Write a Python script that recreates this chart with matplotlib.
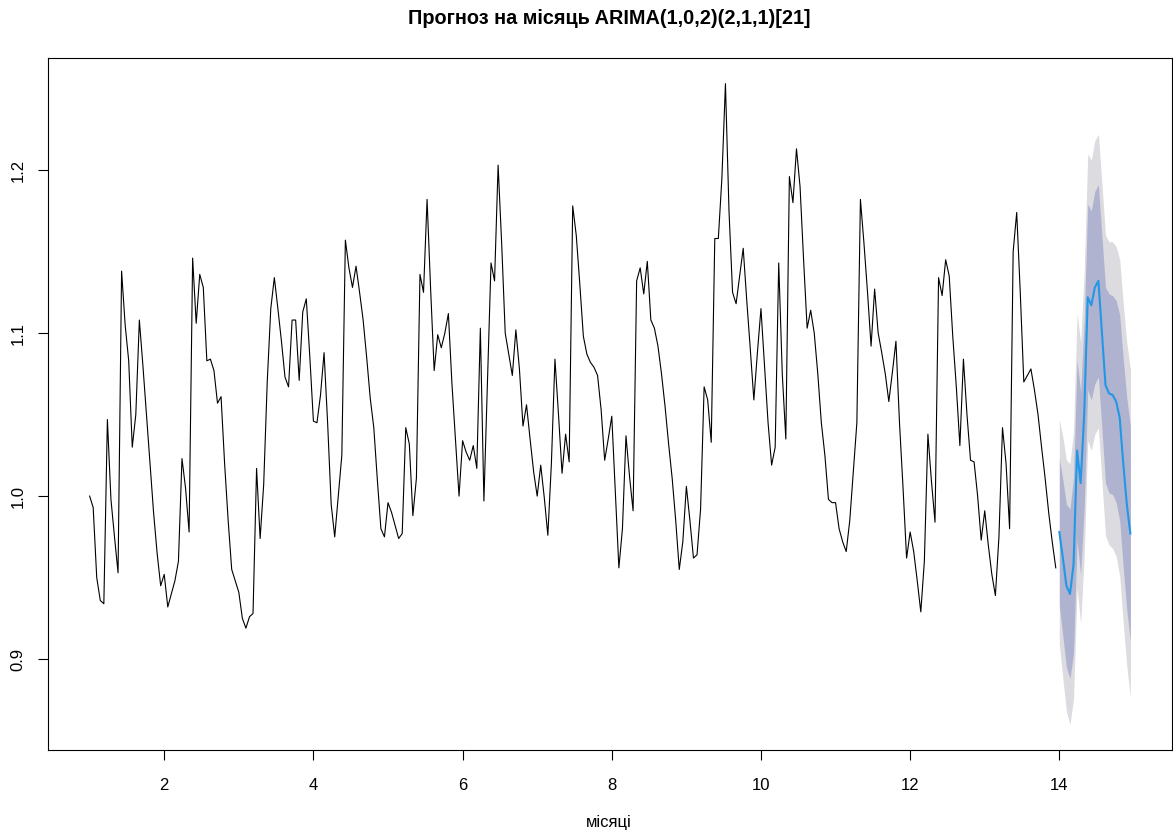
import matplotlib
matplotlib.use("Agg")
import matplotlib.pyplot as plt
import numpy as np

plt.rcParams["font.family"] = ["Liberation Sans", "DejaVu Sans"]

# -----------------------------------------------------------------------------
# Data (frequency 21 per month, starting at month 1)
# -----------------------------------------------------------------------------

FREQ = 21
START = 1

history = [
    1.000, 0.993, 0.950, 0.936, 0.934, 1.047, 0.998, 0.975, 0.953, 1.138, 1.105,
    1.083, 1.030, 1.050, 1.108, 1.080, 1.050, 1.020, 0.990, 0.965, 0.945,
    0.952, 0.932, 0.940, 0.948, 0.960, 1.023, 1.005, 0.978, 1.146, 1.106, 1.136,
    1.128, 1.083, 1.084, 1.077, 1.057, 1.061, 1.020, 0.985, 0.955, 0.948,
    0.941, 0.925, 0.919, 0.926, 0.928, 1.017, 0.974, 1.007, 1.070, 1.115, 1.134,
    1.115, 1.095, 1.073, 1.067, 1.108, 1.108, 1.071, 1.113, 1.121, 1.085,
    1.046, 1.045, 1.062, 1.088, 1.045, 0.995, 0.975, 1.000, 1.025, 1.157, 1.140,
    1.128, 1.141, 1.125, 1.108, 1.085, 1.060, 1.042, 1.010, 0.980, 0.975,
    0.996, 0.990, 0.982, 0.974, 0.977, 1.042, 1.032, 0.988, 1.011, 1.136, 1.125,
    1.182, 1.127, 1.077, 1.099, 1.091, 1.100, 1.112, 1.069, 1.035, 1.000,
    1.034, 1.027, 1.022, 1.031, 1.017, 1.103, 0.997, 1.070, 1.143, 1.132, 1.203,
    1.155, 1.100, 1.087, 1.074, 1.102, 1.078, 1.043, 1.056, 1.035, 1.015,
    1.000, 1.019, 0.999, 0.976, 1.020, 1.084, 1.050, 1.014, 1.038, 1.021, 1.178,
    1.160, 1.130, 1.098, 1.087, 1.082, 1.079, 1.074, 1.053, 1.022, 1.035,
    1.049, 1.003, 0.956, 0.980, 1.037, 1.012, 0.991, 1.132, 1.140, 1.124, 1.144,
    1.108, 1.103, 1.092, 1.075, 1.055, 1.032, 1.011, 0.985, 0.955, 0.972,
    1.006, 0.985, 0.962, 0.964, 0.992, 1.067, 1.059, 1.033, 1.158, 1.158, 1.195,
    1.253, 1.175, 1.125, 1.118, 1.135, 1.152, 1.120, 1.090, 1.059, 1.088,
    1.115, 1.080, 1.045, 1.019, 1.030, 1.143, 1.075, 1.035, 1.196, 1.180, 1.213,
    1.190, 1.145, 1.103, 1.114, 1.100, 1.075, 1.045, 1.025, 0.998, 0.996,
    0.996, 0.980, 0.972, 0.966, 0.985, 1.015, 1.045, 1.182, 1.155, 1.125, 1.092,
    1.127, 1.100, 1.088, 1.075, 1.058, 1.076, 1.095, 1.045, 1.005, 0.962,
    0.978, 0.966, 0.948, 0.929, 0.960, 1.038, 1.009, 0.984, 1.134, 1.123, 1.145,
    1.135, 1.098, 1.067, 1.031, 1.084, 1.050, 1.022, 1.021, 1.000, 0.973,
    0.991, 0.970, 0.952, 0.939, 0.975, 1.042, 1.020, 0.980, 1.150, 1.174, 1.125,
    1.070, 1.074, 1.078, 1.065, 1.050, 1.030, 1.011, 0.990, 0.972, 0.956,
]

forecast_mean = [
    0.978, 0.962, 0.945, 0.940, 0.958, 1.028, 1.008, 1.050, 1.122, 1.117, 1.128,
    1.132, 1.100, 1.068, 1.063, 1.062, 1.058, 1.048, 1.020, 0.995, 0.977,
]
lower_80 = [
    0.933, 0.914, 0.895, 0.888, 0.904, 0.973, 0.952, 0.993, 1.065, 1.059, 1.069,
    1.073, 1.041, 1.008, 1.002, 1.001, 0.996, 0.985, 0.956, 0.930, 0.911,
]
upper_80 = [
    1.023, 1.010, 0.995, 0.992, 1.012, 1.083, 1.064, 1.107, 1.179, 1.175, 1.187,
    1.191, 1.159, 1.128, 1.124, 1.123, 1.120, 1.111, 1.084, 1.060, 1.043,
]
lower_95 = [
    0.909, 0.888, 0.868, 0.860, 0.876, 0.944, 0.922, 0.963, 1.034, 1.028, 1.038,
    1.042, 1.009, 0.976, 0.970, 0.968, 0.963, 0.951, 0.922, 0.896, 0.876,
]
upper_95 = [
    1.047, 1.036, 1.022, 1.020, 1.040, 1.112, 1.094, 1.137, 1.210, 1.206, 1.218,
    1.222, 1.191, 1.160, 1.156, 1.156, 1.153, 1.145, 1.118, 1.094, 1.078,
]

title = "Прогноз на місяць ARIMA(1,0,2)(2,1,1)[21]"
x_label = "місяці"
x_ticks = [2, 4, 6, 8, 10, 12, 14]
y_ticks = [0.9, 1.0, 1.1, 1.2]

# -----------------------------------------------------------------------------
# Plot
# -----------------------------------------------------------------------------

# Time axis in months, one step per trading day.
x_hist = START + np.arange(len(history)) / FREQ
x_fc = START + len(history) / FREQ + np.arange(len(forecast_mean)) / FREQ

fig = plt.figure(figsize=(11.73, 8.32), dpi=100)
ax = fig.add_axes([48 / 1173, 82 / 832, 1124 / 1173, 692 / 832])

# Prediction intervals: 95% underneath, 80% on top.
ax.fill_between(x_fc, lower_95, upper_95, color="#DBDBE0", linewidth=0)
ax.fill_between(x_fc, lower_80, upper_80, color="#B0B3D0", linewidth=0)

ax.plot(x_hist, history, color="black", linewidth=0.8)
ax.plot(x_fc, forecast_mean, color="#2297E6", linewidth=1.5)

# R style 4% padding around the data.
ax.margins(x=0.04, y=0.04)

ax.set_xticks(x_ticks)
ax.set_xticklabels([str(t) for t in x_ticks])
ax.set_yticks(y_ticks)
ax.set_yticklabels([f"{t:.1f}" for t in y_ticks], rotation=90, va="center")
ax.tick_params(direction="out", length=7, width=0.8, labelsize=12, colors="black")
ax.tick_params(axis="x", pad=13)
ax.tick_params(axis="y", pad=9)
for spine in ax.spines.values():
    spine.set_linewidth(0.8)

fig.text(609 / 1173, 1 - 18 / 832, title, ha="center", va="center",
         fontsize=14.3, fontweight="bold")
fig.text(609 / 1173, 1 - 822 / 832, x_label, ha="center", va="center",
         fontsize=12)

fig.savefig("out.png", dpi=100)
